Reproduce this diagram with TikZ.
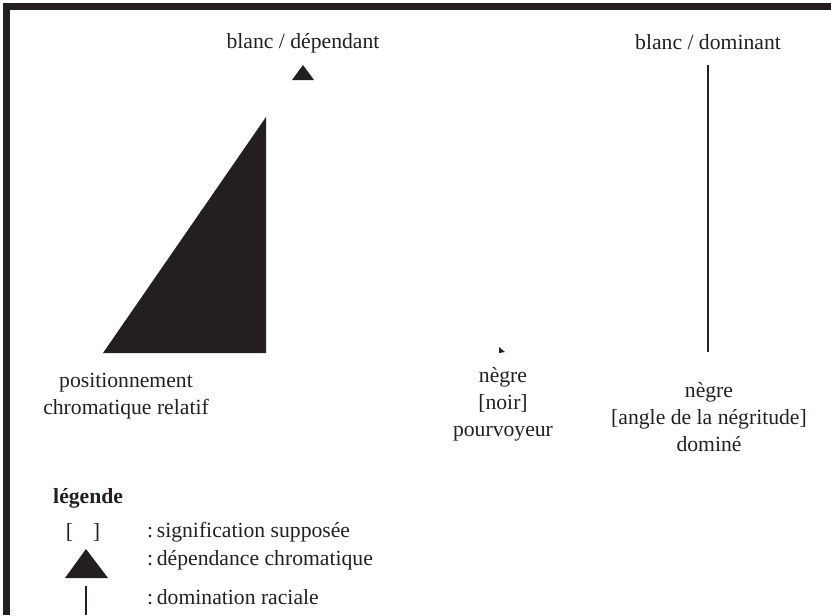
\documentclass[tikz,border=0pt]{standalone}
\usepackage{fontspec}
\setmainfont{Liberation Serif}
\usetikzlibrary{positioning}
\definecolor{ink}{RGB}{35,31,32}

\begin{document}
\begin{tikzpicture}[
      x = 0.3mm, y = -0.3mm, % one unit per pixel, y going down
      every node/.style = {font=\fontsize{18.5}{23}\selectfont, text=ink, align=center, inner sep=0pt},
      rule/.style = {draw=ink, line width=2.4pt}, % vertical strokes
      wedge/.style = {fill=ink} % filled triangles
  ]

\useasboundingbox (0,0) rectangle (831,615);

% frame, top and left only
\fill[ink] (3,3) rectangle (831,10);
\fill[ink] (3,3) rectangle (10,615);

% big triangle and small one
\fill[wedge] (103,353) -- (266,353) -- (266,117) -- cycle;
\fill[wedge] (292,80) -- (314,80) -- (303,65) -- cycle;
\fill[wedge] (499,347) -- (505,352) -- (499,353) -- cycle;

\node (dep) at (303,43) {blanc / dépendant};
\node (dom) at (708,42) {blanc / dominant};
\node (pos) at (126,396) {positionnement\\chromatique relatif};
\node (noir) at (503,404) {nègre\\{}[noir]\\pourvoyeur};
\node (neg) at (709,417) {nègre\\{}[angle de la négritude]\\dominé};

\coordinate (domtop) at (708,65);
\coordinate (dombot) at (708,352);
\draw[rule] (domtop) -- (dombot);

% legend
\node[font=\fontsize{18.5}{23}\selectfont\bfseries, anchor=west] (leg) at (53,498) {légende};
\node (brk) at (83,532) {[\hspace{6mm}]};
\fill[wedge] (65,578) -- (108,578) -- (86,549) -- cycle;
\coordinate (legtop) at (86,586);
\coordinate (legbot) at (86,615);
\draw[rule] (legtop) -- (legbot);

\foreach \yy/\txt [count=\i] in {
    532/{signification supposée},
    560/{dépendance chromatique},
    597/{domination raciale}
}{
    \node[anchor=west] (key\i) at (147,\yy) {:\,\txt};
}

\end{tikzpicture}
\end{document}
